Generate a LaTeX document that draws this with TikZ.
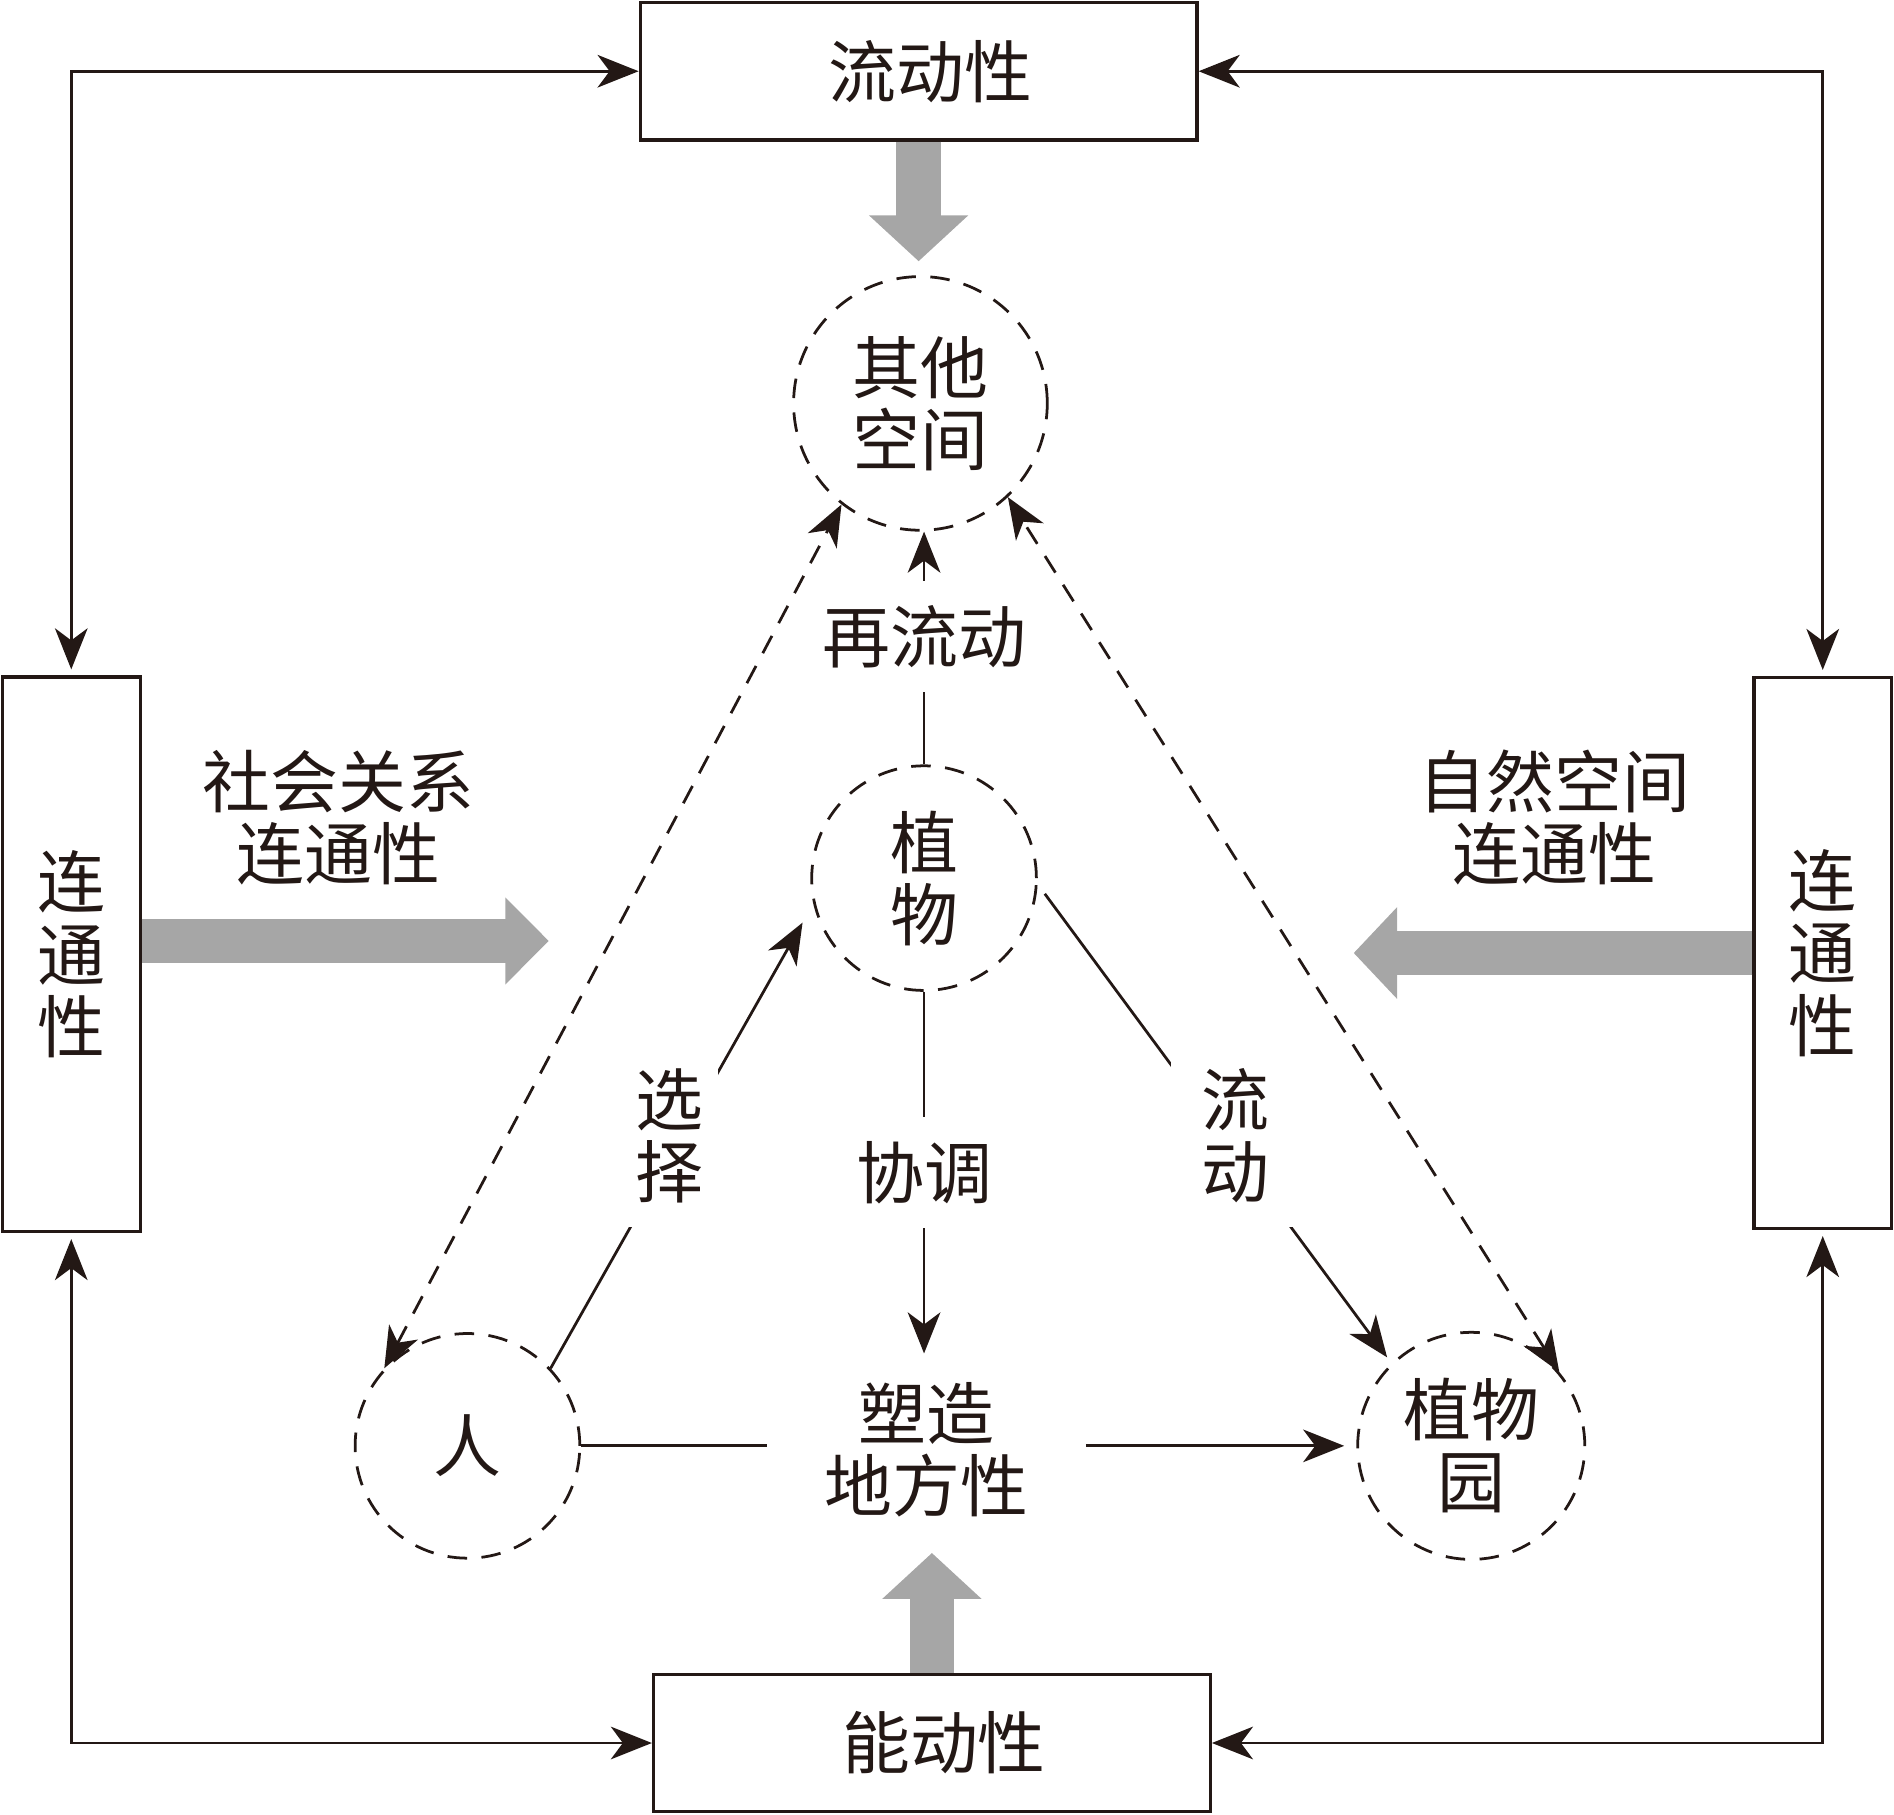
\documentclass[tikz,border=0pt]{standalone}
\usepackage{fontspec}
\setmainfont{Noto Sans CJK SC}
\usepackage{tikz}
\usetikzlibrary{arrows.meta}
\definecolor{ink}{RGB}{35,24,21}
\definecolor{band}{RGB}{166,166,166}

\tikzset{
  hbox/.style={draw=ink, line width=0.75pt, minimum width=4.61cm, minimum height=1.14cm, inner sep=0pt},
  vbox/.style={draw=ink, line width=0.75pt, minimum width=1.14cm, minimum height=4.59cm, inner sep=0pt, align=center},
  ring/.style={circle, draw=ink, line width=0.65pt, dash pattern=on 4.6pt off 3.4pt, inner sep=0pt, align=center},
  link/.style={draw=ink, line width=0.65pt},
  dlink/.style={link, dash pattern=on 4.6pt off 3.4pt},
  lbl/.style={fill=white, inner xsep=2pt, inner ysep=0.2cm, align=center},
  fat/.style={draw=band, line width=0.37cm, -{Triangle[length=0.38cm, width=0.8cm]}}
}

\begin{document}
\begin{tikzpicture}[>={Stealth[length=0.34cm, width=0.27cm, inset=0.1cm]},
  every node/.style={font=\fontsize{16}{17}\selectfont, text=ink}]
\useasboundingbox (0,0) rectangle (15.68,15.02);
% boxes
\node[hbox] (ld)  at (7.605,14.43) {\hspace*{0.2cm}流动性};
\node[hbox] (nd)  at (7.715,0.59)  {\hspace*{0.2cm}能动性};
\node[vbox] (lt1) at (0.59,7.12)   {连\\通\\性};
\node[vbox, minimum height=4.56cm] (lt2) at (15.09,7.13) {连\\通\\性};
% circles
\node[ring, minimum size=2.1cm]  (qt)  at (7.62,11.68) {其他\\空间};
\node[ring, minimum size=1.86cm] (zw)  at (7.65,7.75)  {植\\物};
\node[ring, minimum size=1.86cm] (ren) at (3.87,3.05)  {人};
\node[ring, minimum size=1.88cm] (zwy) at (12.18,3.05) {植物\\园};
\node[lbl, inner xsep=0.47cm, inner ysep=0.23cm] (sz) at (7.67,3.02) {塑造\\地方性};
% side texts
\node[align=center] (shgx) at (2.80,8.25)  {社会关系\\连通性};
\node[align=center] (zrkj) at (12.87,8.25) {自然空间\\连通性};

% outer frame
\draw[link,<->, shorten >=0.05cm] (ld.west) -| (lt1.north);
\draw[link,<->, shorten >=0.05cm] (ld.east) -| (lt2.north);
\draw[link,<->, shorten >=0.05cm] (nd.west) -| (lt1.south);
\draw[link,<->, shorten >=0.05cm] (nd.east) -| (lt2.south);

% grey arrows
\draw[fat] (ld.south) -- ++(0,-0.99);
\draw[fat] (nd.north) -- ++(0,0.99);
\draw[fat, -{Triangle[length=0.36cm, width=0.7cm]}] ([yshift=0.11cm]lt1.east) -- ++(3.37,0);
\draw[fat, -{Triangle[length=0.36cm, width=0.74cm]}] (lt2.west) -- ++(-3.30,0);

% inner connectors
\draw[link,->] (zw.north) -- node[lbl, pos=0.55] {再流动} (zw.north |- qt.south);
\draw[link,->] (zw.south) -- node[lbl] {协调} (zw.south |- sz.north);
\draw[link,->, shorten >=0.18cm] (ren.43) -- node[lbl, xshift=-0.1cm, inner xsep=0.12cm] {选\\择} (zw.193);
\draw[link,->, shorten <=0.1cm, shorten >=0.06cm] (zw.-3) -- node[lbl, xshift=0.17cm, yshift=-0.1cm, inner xsep=0.25cm] {流\\动} (zwy.134);
\draw[link] (ren.east) -- (ren.east -| sz.west);
\draw[link,->, shorten >=0.1cm] (sz.east |- zwy.west) -- (zwy.west);
\draw[dlink,<->] (ren.137) -- (qt.232);
\draw[dlink,<->] (zwy.40) -- (qt.-47);
\end{tikzpicture}
\end{document}
